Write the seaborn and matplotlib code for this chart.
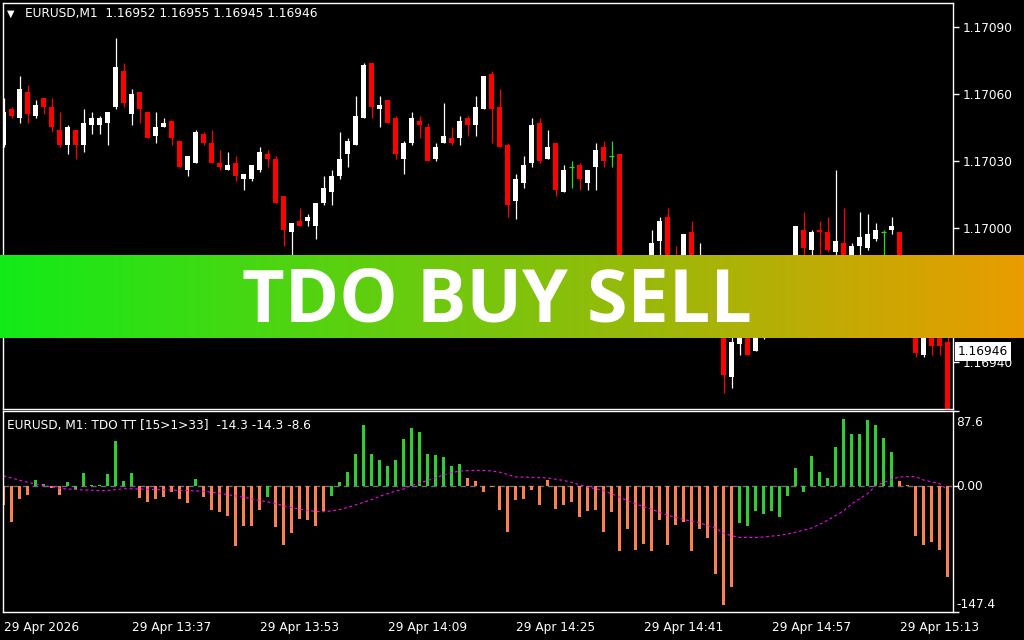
import numpy as np
import pandas as pd
import matplotlib
matplotlib.use("Agg")
import matplotlib.pyplot as plt
import matplotlib.transforms as mtransforms
import seaborn as sns

# EURUSD M1 candles, one per minute starting 29 Apr 13:21
opens = [1.17037, 1.17053, 1.17049, 1.17061, 1.17050, 1.17058, 1.17054, 1.17044, 1.17037, 1.17044,
         1.17037, 1.17046, 1.17046, 1.17047, 1.17054, 1.17070, 1.17051, 1.17061, 1.17052, 1.17041,
         1.17045, 1.17048, 1.17039, 1.17026, 1.17029, 1.17042, 1.17038, 1.17029, 1.17026, 1.17029,
         1.17022, 1.17022, 1.17026, 1.17033, 1.17031, 1.17014, 1.16998, 1.17003, 1.17003, 1.17001,
         1.17011, 1.17016, 1.17023, 1.17033, 1.17037, 1.17049, 1.17074, 1.17053, 1.17057, 1.17049,
         1.17031, 1.17038, 1.17048, 1.17045, 1.17031, 1.17038, 1.17040, 1.17040, 1.17049, 1.17046,
         1.17053, 1.17069, 1.17054, 1.17037, 1.17012, 1.17020, 1.17029, 1.17047, 1.17031, 1.17038,
         1.17016, 1.17027, 1.17028, 1.17020, 1.17027, 1.17036, 1.17032, 1.17033, 1.16968, 1.16960,
         1.16958, 1.16975, 1.16994, 1.17005, 1.16985, 1.16976, 1.16998, 1.16975, 1.16984, 1.16978,
         1.16962, 1.16933, 1.16948, 1.16960, 1.16945, 1.16955, 1.16960, 1.16966, 1.16972, 1.16980,
         1.16999, 1.16990, 1.16999, 1.16998, 1.16989, 1.16993, 1.16984, 1.16992, 1.16991, 1.16995,
         1.16998, 1.16999, 1.16998, 1.16976, 1.16958, 1.16943, 1.16955, 1.16953, 1.16949]
highs = [1.17058, 1.17054, 1.17068, 1.17064, 1.17057, 1.17058, 1.17058, 1.17052, 1.17046, 1.17044,
         1.17053, 1.17052, 1.17050, 1.17052, 1.17085, 1.17074, 1.17062, 1.17061, 1.17052, 1.17052,
         1.17049, 1.17048, 1.17039, 1.17032, 1.17044, 1.17043, 1.17044, 1.17035, 1.17034, 1.17032,
         1.17024, 1.17028, 1.17036, 1.17035, 1.17032, 1.17014, 1.17002, 1.17009, 1.17006, 1.17011,
         1.17023, 1.17026, 1.17043, 1.17040, 1.17059, 1.17074, 1.17074, 1.17059, 1.17057, 1.17050,
         1.17039, 1.17052, 1.17050, 1.17047, 1.17038, 1.17056, 1.17045, 1.17050, 1.17050, 1.17059,
         1.17068, 1.17070, 1.17062, 1.17038, 1.17024, 1.17032, 1.17049, 1.17049, 1.17044, 1.17038,
         1.17028, 1.17030, 1.17029, 1.17026, 1.17038, 1.17039, 1.17039, 1.17033, 1.16970, 1.16962,
         1.16987, 1.16999, 1.17005, 1.17009, 1.16992, 1.16997, 1.17003, 1.16993, 1.16988, 1.16980,
         1.16964, 1.16951, 1.16958, 1.16962, 1.16953, 1.16962, 1.16968, 1.16975, 1.16982, 1.17001,
         1.17007, 1.16999, 1.17003, 1.17005, 1.17026, 1.17009, 1.16993, 1.17007, 1.17006, 1.17002,
         1.16999, 1.17005, 1.16998, 1.16988, 1.16962, 1.16958, 1.16957, 1.16955, 1.16952]
lows = [1.17036, 1.17049, 1.17047, 1.17047, 1.17049, 1.17051, 1.17043, 1.17036, 1.17033, 1.17031,
        1.17034, 1.17042, 1.17042, 1.17037, 1.17053, 1.17054, 1.17046, 1.17047, 1.17040, 1.17038,
        1.17045, 1.17037, 1.17027, 1.17023, 1.17029, 1.17037, 1.17029, 1.17026, 1.17026, 1.17021,
        1.17017, 1.17021, 1.17025, 1.17027, 1.17011, 1.16992, 1.16988, 1.17001, 1.17001, 1.16995,
        1.17010, 1.17010, 1.17022, 1.17027, 1.17037, 1.17049, 1.17049, 1.17045, 1.17047, 1.17031,
        1.17024, 1.17037, 1.17040, 1.17030, 1.17030, 1.17038, 1.17037, 1.17037, 1.17041, 1.17041,
        1.17053, 1.17038, 1.17036, 1.17005, 1.17004, 1.17018, 1.17027, 1.17029, 1.17031, 1.17014,
        1.17016, 1.17018, 1.17017, 1.17017, 1.17017, 1.17027, 1.17027, 1.16965, 1.16957, 1.16953,
        1.16955, 1.16972, 1.16985, 1.16983, 1.16970, 1.16973, 1.16974, 1.16972, 1.16972, 1.16958,
        1.16926, 1.16928, 1.16943, 1.16943, 1.16945, 1.16950, 1.16957, 1.16963, 1.16970, 1.16978,
        1.16985, 1.16985, 1.16985, 1.16989, 1.16984, 1.16985, 1.16982, 1.16986, 1.16990, 1.16994,
        1.16988, 1.16997, 1.16972, 1.16962, 1.16942, 1.16942, 1.16943, 1.16943, 1.16912]
closes = [1.17052, 1.17050, 1.17062, 1.17051, 1.17055, 1.17054, 1.17045, 1.17037, 1.17045, 1.17037,
          1.17047, 1.17049, 1.17049, 1.17052, 1.17072, 1.17056, 1.17060, 1.17053, 1.17040, 1.17045,
          1.17047, 1.17040, 1.17027, 1.17032, 1.17043, 1.17038, 1.17029, 1.17027, 1.17028, 1.17023,
          1.17024, 1.17028, 1.17034, 1.17031, 1.17011, 1.16999, 1.17002, 1.17001, 1.17005, 1.17011,
          1.17018, 1.17023, 1.17031, 1.17039, 1.17050, 1.17073, 1.17054, 1.17055, 1.17047, 1.17033,
          1.17038, 1.17049, 1.17046, 1.17030, 1.17036, 1.17041, 1.17038, 1.17048, 1.17046, 1.17054,
          1.17068, 1.17053, 1.17036, 1.17010, 1.17022, 1.17028, 1.17046, 1.17030, 1.17036, 1.17017,
          1.17026, 1.17027, 1.17022, 1.17026, 1.17035, 1.17030, 1.17032, 1.16968, 1.16960, 1.16956,
          1.16975, 1.16993, 1.17003, 1.16988, 1.16975, 1.16997, 1.16978, 1.16985, 1.16978, 1.16962,
          1.16934, 1.16949, 1.16955, 1.16943, 1.16952, 1.16960, 1.16966, 1.16972, 1.16980, 1.17001,
          1.16991, 1.16998, 1.16998, 1.16990, 1.16994, 1.16988, 1.16992, 1.16996, 1.16997, 1.16999,
          1.16998, 1.17001, 1.16975, 1.16965, 1.16944, 1.16956, 1.16947, 1.16947, 1.16915]

# TDO TT histogram + signal line
tdo_hist = [-21.8, -42, -14.7, -11, 7.5, 2.8, -2.4, -11, 5, -4.4,
            14.7, 1.2, 1.2, 13.5, 53, 6.3, 14.7, -13.9, -18.3, -14.7,
            -12.3, -7.5, -14.7, -19.5, 8.7, -12.3, -27.8, -30.2, -35, -69.5,
            -46.8, -46.8, -27.8, -12.3, -48, -68.3, -55.2, -38.5, -39.7, -46.8,
            -29, -11.1, 5.2, 15.9, 37.3, 70.7, 37.3, 30.2, 23, 30.2,
            55.2, 68.3, 63.5, 37.3, 36.1, 33.7, 23, 25.4, 9.9, 6.3,
            -7.5, -1.6, -27.8, -54, -15.9, -14.7, -5.2, -21.8, 7.5, -26.6,
            -21.8, -18.3, -36.1, -29, -27.8, -54, -30.2, -75.4, -50.4, -74.2,
            -67.1, -75.4, -39.7, -68.3, -45.7, -42, -75.4, -50.4, -61.1, -102.8,
            -138.5, -118.3, -43.3, -46.8, -29, -32.6, -29, -36.1, -11.1, 20.6,
            -7.5, 34.9, 15.9, 9.9, 45.7, 77.8, 61.1, 61.1, 76.6, 70.7,
            56.4, 39.7, 6.3, 1.2, -58.8, -68.3, -65.9, -74.2, -106.4]
tdo_color = (["down"] * 4 + ["up"] * 2 + ["down"] * 2 + ["up"] * 9 + ["down"] * 7 + ["up"]
             + ["down"] * 8 + ["up"] + ["down"] * 7 + ["up"] * 17 + ["down"] * 34
             + ["up"] * 20 + ["down"] * 7)
tdo_signal = [11.9, 9.5, 6.7, 4.5, 2.5, 0.5, -1, -2.5, -3.5, -4,
              -4.5, -4.8, -5.4, -5.2, -4.2, -3.2, -3.2, -3.5, -3.8, -4.1,
              -4.4, -4.7, -5, -5.2, -5.6, -6.2, -7.2, -8.5, -10, -11.5,
              -13, -15, -17, -18.5, -20.5, -23, -25, -27, -28.5, -29.6,
              -30, -29, -27.5, -25, -22, -19, -16, -12, -9, -6,
              -3.5, 0.8, 3.5, 6.5, 9.5, 13, 15.5, 17.5, 18, 18.3,
              18.3, 17.5, 16.3, 13.5, 10.7, 10.4, 10.1, 9.8, 9.5, 8,
              6.5, 4.5, 1.5, -1.2, -3, -5.2, -9, -13, -17, -21,
              -24, -27, -30.5, -34, -36.5, -39, -41, -43, -46, -49,
              -55, -58, -60, -60, -60, -59.5, -58.5, -57.5, -56, -54,
              -51.5, -49, -45, -40, -34.5, -29, -21, -15, -9, 0,
              4, 8, 10.5, 11, 11, 7, 5, 2.8, -4.4]

price_ticks = [1.16940, 1.16970, 1.17000, 1.17030, 1.17060, 1.17090]
time_tick_bars = [0, 16, 32, 48, 64, 80, 96, 112]
time_tick_labels = ["29 Apr 2026", "29 Apr 13:37", "29 Apr 13:53", "29 Apr 14:09",
                    "29 Apr 14:25", "29 Apr 14:41", "29 Apr 14:57", "29 Apr 15:13"]

sns.set_style("dark", {"axes.facecolor": "black", "figure.facecolor": "black"})
plt.rcParams["font.family"] = ["DejaVu Sans"]

W, H = 1024, 640
fig = plt.figure(figsize=(10.24, 6.4), dpi=100, facecolor="black")
ax = fig.add_axes([2.5 / W, 1 - 409 / H, 950 / W, 406.5 / H])
ax2 = fig.add_axes([2.5 / W, 1 - 612.3 / H, 950 / W, 201.3 / H])

df = pd.DataFrame({"open": opens, "high": highs, "low": lows, "close": closes})
df["bar"] = np.arange(len(df))
up = df.close > df.open
down = df.close < df.open
doji = df.close == df.open

#candles
ax.vlines(df.bar[up], df.low[up], df.high[up], color="white", lw=0.9)
ax.vlines(df.bar[down], df.low[down], df.high[down], color="#FF0000", lw=0.9)
ax.vlines(df.bar[doji], df.low[doji], df.high[doji], color="#22DD22", lw=0.9)
ax.hlines(df.close[doji], df.bar[doji] - 0.31, df.bar[doji] + 0.31, color="#22DD22", lw=0.9)
ax.bar(df.bar[up], (df.close - df.open)[up], bottom=df.open[up], width=0.625,
       color="white", linewidth=0)
ax.bar(df.bar[down], (df.close - df.open)[down], bottom=df.open[down], width=0.625,
       color="#FF0000", linewidth=0)

ax.set_xlim(-0.125, 118.625)
ax.set_ylim(1.169188, 1.171009)
ax.set_xticks([])
ax.set_yticks(price_ticks)
ax.set_yticklabels(["%.5f" % p for p in price_ticks])

#indicator window
hist_df = pd.DataFrame({"bar": np.arange(len(tdo_hist)), "value": tdo_hist, "trend": tdo_color})
ax2.axhline(0, color="#6E7070", lw=1, ls=(0, (4, 3)), zorder=0)
sns.barplot(data=hist_df, x="bar", y="value", hue="trend",
            palette={"up": "#32CD32", "down": "#FF7F50"}, native_scale=True, dodge=False,
            width=0.375, saturation=1, linewidth=0, errorbar=None, legend=False, ax=ax2)
sns.lineplot(x=hist_df.bar, y=tdo_signal, color="#FF00FF", lw=0.8,
             linestyle=(0, (2.5, 2.5)), ax=ax2)
ax2.set_xlim(-0.125, 118.625)
ax2.set_ylim(-147.4, 87.6)
ax2.set_xlabel("")
ax2.set_ylabel("")
ax2.set_yticks([-147.4, 0, 87.6])
ax2.set_yticklabels(["", "", ""])
ax2.set_xticks(time_tick_bars)
ax2.set_xticklabels(time_tick_labels, ha="left")

for a in (ax, ax2):
    a.set_facecolor("black")
    a.grid(False)
    for s in a.spines.values():
        s.set_color("white")
        s.set_linewidth(1)
    a.yaxis.tick_right()
    a.tick_params(colors="white", labelcolor="white", direction="out",
                  length=4, width=1, labelsize=8.7, pad=3)
ax2.tick_params(axis="x", pad=2.5)

tr = mtransforms.blended_transform_factory(ax2.transAxes, ax2.transData)
ax2.text(1.004, 0.945, "87.6", transform=ax2.transAxes, color="white", fontsize=8.7, va="center")
ax2.text(1.004, 0, "0.00", transform=tr, color="white", fontsize=8.7, va="center")
ax2.text(1.004, 0.041, "-147.4", transform=ax2.transAxes, color="white", fontsize=8.7, va="center")

#headers
fig.text(7 / W, 1 - 14 / H, "\u25bc", color="white", fontsize=7, va="center")
fig.text(25 / W, 1 - 14 / H, "EURUSD,M1  1.16952 1.16955 1.16945 1.16946",
         color="white", fontsize=8.7, va="center")
fig.text(7 / W, 1 - 425 / H, "EURUSD, M1: TDO TT [15>1>33]  -14.3 -14.3 -8.6",
         color="white", fontsize=8.7, va="center")
fig.text(958 / W, 1 - 351.5 / H, "1.16946", color="black", fontsize=8.7, va="center",
         bbox=dict(boxstyle="square,pad=0.25", fc="white", ec="none"))

#banner
bax = fig.add_axes([0, 1 - 337.7 / H, 1, 82.7 / H], zorder=10)
left_c = np.array([18, 235, 24]) / 255
right_c = np.array([234, 156, 0]) / 255
t = np.linspace(0, 1, 512)[:, None]
grad = (left_c[None, :] * (1 - t) + right_c[None, :] * t)[None, :, :]
bax.imshow(grad, aspect="auto", extent=[0, 1, 0, 1])
bax.set_xlim(0, 1)
bax.set_ylim(0, 1)
bax.axis("off")
bax.text(497.5 / W, (337.7 - 322) / 82.7, "TDO BUY SELL", color="white", fontsize=53,
         fontfamily="Open Sans", fontweight="bold", ha="center", va="baseline")

fig.savefig("out.png", dpi=100, facecolor="black")
